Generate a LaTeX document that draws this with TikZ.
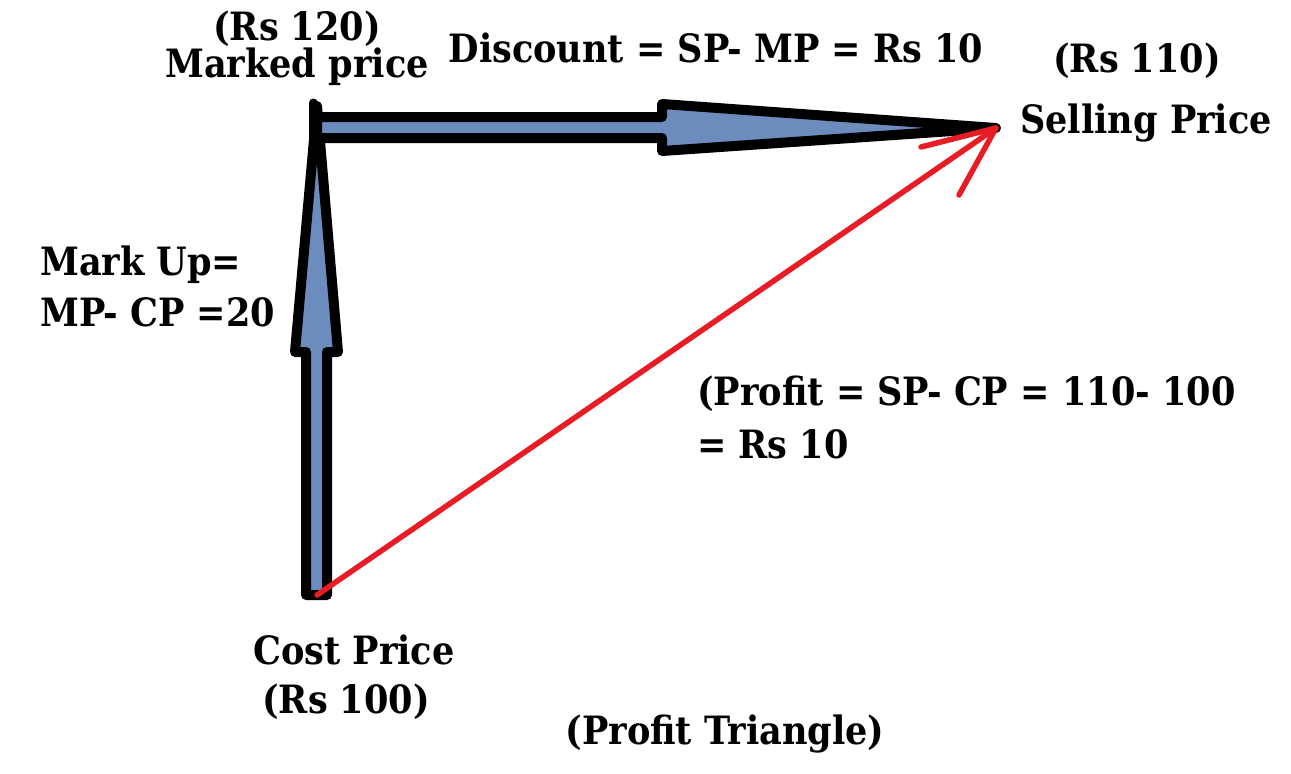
\documentclass[tikz,border=0pt]{standalone}
\usepackage{fontspec}
\setmainfont{DejaVu Serif Condensed}
\definecolor{arrowblue}{RGB}{108,140,190}
\definecolor{redline}{RGB}{232,28,36}
\tikzset{
  lbl/.style={font=\bfseries\fontsize{39}{46}\selectfont, inner sep=0pt, text=black},
  blockarrow/.style={draw=black, fill=arrowblue, line width=10pt, line join=round},
  redarrow/.style={draw=redline, line width=5.5pt, line cap=round, line join=round}
}
\begin{document}
\begin{tikzpicture}[x=1pt,y=-1pt]
\useasboundingbox[fill=white] (0,0) rectangle (1291,774);
\coordinate (cp) at (317,595);
\coordinate (mp) at (317,106);
\coordinate (sp) at (996,128);
% vertical block arrow CP -> MP
\draw[blockarrow] (306,595) -- (306,352) -- (295,352) -- (mp) -- (338,352) -- (327,352) -- (327,595) -- cycle;
% horizontal block arrow MP -> SP
\draw[blockarrow] (317,117) -- (662,117) -- (662,104) -- (sp) -- (662,151) -- (662,138) -- (317,138) -- cycle;
\draw[black, line width=9pt, line cap=round] (313,103) -- (313,150);
% red arrow CP -> SP
\draw[redarrow] (cp) -- (sp);
\draw[redarrow] (921,147) -- (sp) -- (959,195);
% labels
\node[lbl, anchor=base] (mpprice) at (297,40) {(Rs 120)};
\node[lbl, anchor=base] (mpname) at (297,77) {Marked price};
\node[lbl, anchor=base] (disc) at (716,62) {Discount = SP- MP = Rs 10};
\node[lbl, anchor=base] (spprice) at (1137,72) {(Rs 110)};
\node[lbl, anchor=base west] (spname) at (1020,133) {Selling Price};
\node[lbl, anchor=base west] (mu1) at (40,275) {Mark Up=};
\node[lbl, anchor=base west] (mu2) at (40,326) {MP- CP =20};
\node[lbl, anchor=base west] (pr1) at (697,405) {(Profit = SP- CP = 110- 100};
\node[lbl, anchor=base west] (pr2) at (697,458) {= Rs 10};
\node[lbl, anchor=base] (cpname) at (354,664) {Cost Price};
\node[lbl, anchor=base] (cpprice) at (346,713) {(Rs 100)};
\node[lbl, anchor=base] (title) at (725,744) {(Profit Triangle)};
\end{tikzpicture}
\end{document}
